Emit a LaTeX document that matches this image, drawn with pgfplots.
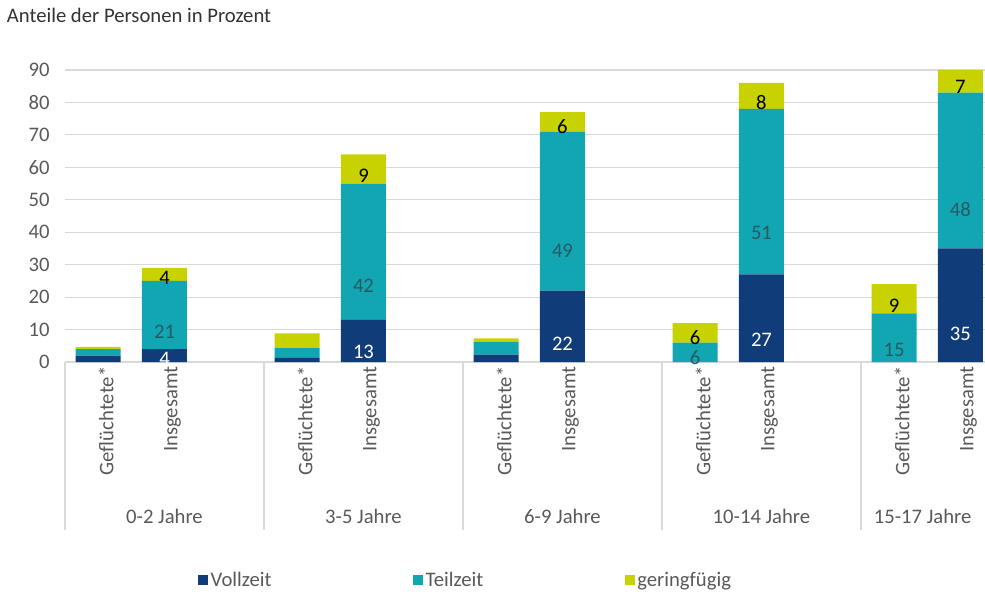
\documentclass[border=0pt]{standalone}
\usepackage{pgfplots}
\pgfplotsset{compat=1.18}
\usepackage{pgfplotstable}
\usepackage{fontspec}
\setmainfont{Carlito}
\definecolor{cV}{RGB}{16,60,122}
\definecolor{cT}{RGB}{18,166,178}
\definecolor{cG}{RGB}{199,210,0}
\definecolor{txt}{RGB}{89,89,89}
\definecolor{tlab}{RGB}{40,90,100}
\definecolor{gridc}{RGB}{217,217,217}
\pgfplotstableread[col sep=comma]{
x,V,T,G,lV,lT,lG
0,2,2,0.7,{},{},{}
1,4,21,4,4,21,4
3,1.3,3,4.5,{},{},{}
4,13,42,9,13,42,9
6,2.3,4,1,{},{},{}
7,22,49,6,22,49,6
9,0,6,6,{},6,6
10,27,51,8,27,51,8
12,0,15,9,{},15,9
13,35,48,7,35,48,7
}\datatable
\begin{document}
\begin{tikzpicture}
\path[use as bounding box] (0,0) rectangle (738.75pt,444.75pt);
\node[anchor=west, text=black!80, font=\fontsize{15.5}{18}\selectfont, inner sep=0pt] at (5pt,433pt) {Anteile der Personen in Prozent};
\begin{axis}[
  at={(48.75pt,173.25pt)}, anchor=south west,
  scale only axis, width=690pt, height=219pt,
  xmin=-0.5, xmax=13.37, ymin=0, ymax=90,
  ybar stacked, bar width=33.75pt,
  clip=false,
  axis lines*=left,
  y axis line style={draw=none},
  x axis line style={draw=gridc, line width=0.8pt},
  major tick length=0pt,
  ytick={0,10,...,90},
  ymajorgrids, grid style={draw=gridc, line width=0.8pt},
  xtick={0,1,3,4,6,7,9,10,12,13},
  xticklabels={Geflüchtete*,Insgesamt,Geflüchtete*,Insgesamt,Geflüchtete*,Insgesamt,Geflüchtete*,Insgesamt,Geflüchtete*,Insgesamt},
  xticklabel style={rotate=90, anchor=east, text=txt, font=\fontsize{15.5}{18}\selectfont, yshift=-6pt},
  yticklabel style={text=txt, font=\fontsize{15.5}{18}\selectfont, xshift=-8pt},
  /pgf/number format/assume math mode=true,
  legend columns=3,
  legend style={at={(0.140,-0.7466)}, anchor=west, draw=none, fill=none,
    font=\fontsize{15.5}{18}\selectfont, text=txt,
    /tikz/every even column/.append style={column sep=104pt}},
  legend image code/.code={\fill[#1] (0pt,-3.75pt) rectangle (7.5pt,3.75pt);},
  point meta=explicit symbolic,
  nodes near coords,
  visualization depends on={\thisrow{V} \as \vV},
  visualization depends on={\thisrow{T} \as \vT},
  visualization depends on={\thisrow{G} \as \vG},
]
\addplot[fill=cV, draw=none, nodes near coords style={anchor=center, text=white, font=\fontsize{15.5}{18}\selectfont, yshift=-\vV*0.608333pt}] table[x=x, y=V, meta=lV] {\datatable};
\addlegendentry{Vollzeit}
\addplot[fill=cT, draw=none, nodes near coords style={anchor=center, text=tlab, font=\fontsize{15.5}{18}\selectfont, yshift=-\vT*0.608333pt}] table[x=x, y=T, meta=lT] {\datatable};
\addlegendentry{Teilzeit}
\addplot[fill=cG, draw=none, nodes near coords style={anchor=center, text=black, font=\fontsize{15.5}{18}\selectfont, yshift=-\vG*0.608333pt}] table[x=x, y=G, meta=lG] {\datatable};
\addlegendentry{geringfügig}
\foreach \s in {-0.5,2.5,5.5,8.5,11.5} {
  \edef\tmp{\noexpand\draw[gridc, line width=0.8pt] (axis cs:\s,0) -- ([yshift=-126pt]axis cs:\s,0);}
  \tmp
}
\node[text=txt, font=\fontsize{15.5}{18}\selectfont] at ([yshift=-116pt]axis cs:1,0) {0-2 Jahre};
\node[text=txt, font=\fontsize{15.5}{18}\selectfont] at ([yshift=-116pt]axis cs:4,0) {3-5 Jahre};
\node[text=txt, font=\fontsize{15.5}{18}\selectfont] at ([yshift=-116pt]axis cs:7,0) {6-9 Jahre};
\node[text=txt, font=\fontsize{15.5}{18}\selectfont] at ([yshift=-116pt]axis cs:10,0) {10-14 Jahre};
\node[text=txt, font=\fontsize{15.5}{18}\selectfont] at ([yshift=-116pt]axis cs:12.43,0) {15-17 Jahre};
\end{axis}
\end{tikzpicture}
\end{document}
